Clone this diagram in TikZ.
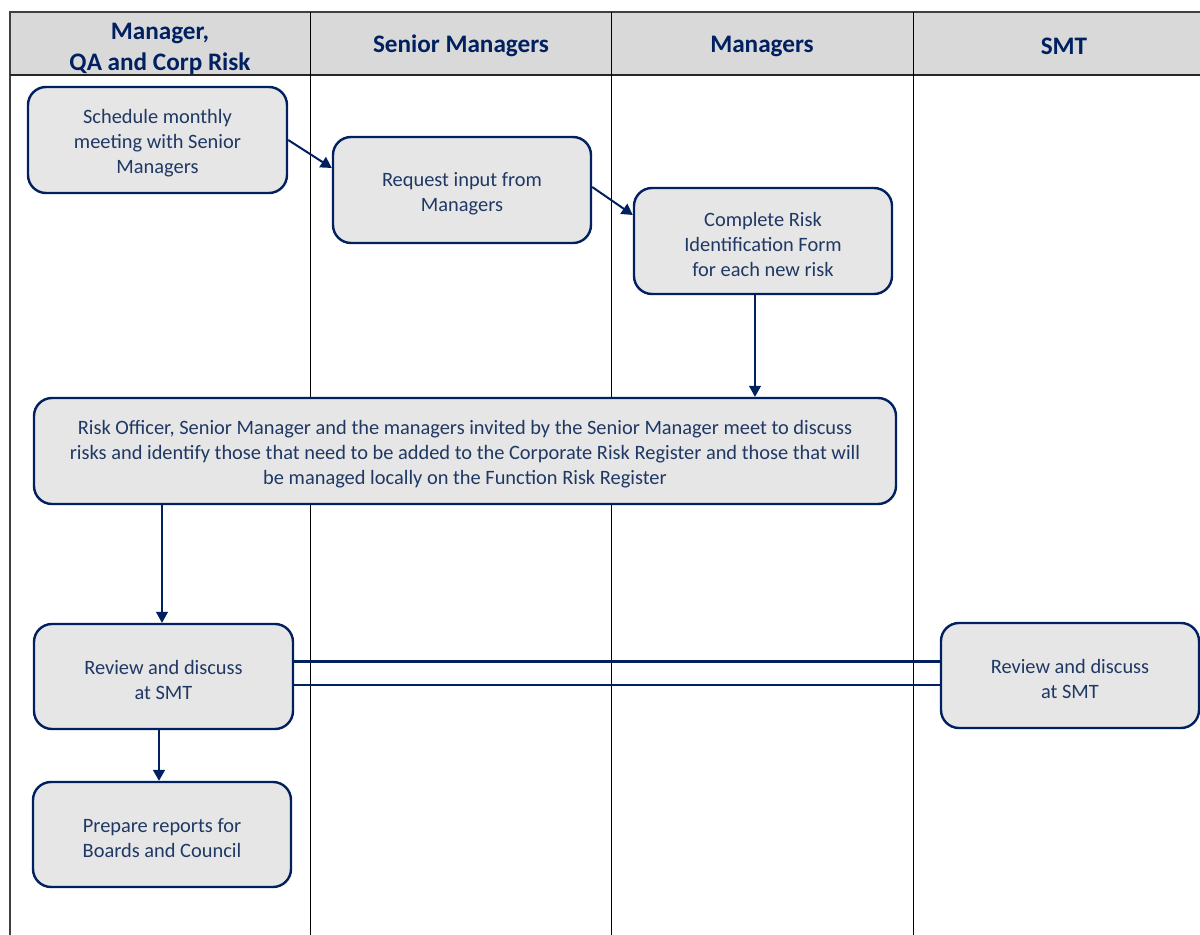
\documentclass[tikz,border=0pt]{standalone}
\usepackage{fontspec}
\setmainfont{Carlito}
\usetikzlibrary{arrows.meta}
\definecolor{navy}{HTML}{002060}
\definecolor{txt}{HTML}{1F3864}
\definecolor{boxfill}{HTML}{E6E6E6}
\definecolor{headfill}{HTML}{D9D9D9}
\newcommand{\tp}{\rule{0pt}{10.5pt}}
\tikzset{
  procbox/.style={draw=navy, line width=1.2pt, fill=boxfill, rounded corners=9pt,
    inner sep=0pt, align=center, text=txt,
    font=\fontsize{10.2pt}{12.5pt}\selectfont},
  headtext/.style={text=navy, align=center, font=\fontsize{12.6pt}{15.5pt}\selectfont\bfseries},
  lane/.style={draw=black, line width=0.5pt},
  flow/.style={draw=navy, line width=1pt, -{Triangle[width=6pt,length=5.5pt]}},
  thinflow/.style={draw=navy, line width=0.6pt, -{Triangle[width=6pt,length=5.5pt]}},
  link/.style={draw=navy, line width=1.1pt}
}
\begin{document}
\begin{tikzpicture}[x=0.5pt,y=-0.5pt]
\useasboundingbox (0,0) rectangle (1200,935);
% header
\fill[headfill] (10,12) rectangle (1215,75);
\draw[black!75, line width=1pt] (1215,12) -- (10,12) -- (10,935);
\draw[black!85, line width=0.8pt] (10,75) -- (1215,75);
\draw[lane] (310,12) -- (310,935);
\draw[lane] (611,12) -- (611,935);
\draw[lane] (913,12) -- (913,935);
\node[headtext] (h1) at (160,48.5) {Manager,\\QA and Corp Risk};
\node[headtext] (h2) at (461,46) {Senior Managers};
\node[headtext] (h3) at (762,46) {Managers};
\node[headtext] (h4) at (1064,46) {SMT};
% boxes
\node[procbox, minimum width=129.5pt, minimum height=53pt] (b1) at (157.5,140) {\tp Schedule monthly\\meeting with Senior\\Managers};
\node[procbox, minimum width=129pt, minimum height=53pt] (b2) at (462,190) {\tp Request input from\\Managers};
\node[procbox, minimum width=129pt, minimum height=53pt] (b3) at (763,241) {\tp Complete Risk\\Identification Form\\for each new risk};
\node[procbox, minimum width=431pt, minimum height=53pt] (b4) at (465,451) {\tp Risk Officer, Senior Manager and the managers invited by the Senior Manager meet to discuss\\risks and identify those that need to be added to the Corporate Risk Register and those that will\\be managed locally on the Function Risk Register};
\node[procbox, minimum width=129.5pt, minimum height=52.5pt] (b5) at (163.5,676.5) {\tp Review and discuss\\at SMT};
\node[procbox, minimum width=129pt, minimum height=52.5pt] (b6) at (162,834.5) {\tp Prepare reports for\\Boards and Council};
\node[procbox, minimum width=129pt, minimum height=52.5pt] (b7) at (1070,675.5) {\tp Review and discuss\\at SMT};
% connectors
\draw[flow] (b1.east |- {(0,140)}) -- (b2.west |- {(0,168)});
\draw[flow] (b2.east |- {(0,187)}) -- (b3.west |- {(0,215)});
\draw[thinflow] (b3.south -| {(755,0)}) -- (b4.north -| {(755,0)});
\draw[thinflow] (b4.south -| {(162,0)}) -- (b5.north -| {(162,0)});
\draw[flow] (b5.south -| {(159,0)}) -- (b6.north -| {(159,0)});
\draw[link] (b5.east |- {(0,661.5)}) -- (b7.west |- {(0,661.5)});
\draw[link] (b5.east |- {(0,685)}) -- (b7.west |- {(0,685)});
\end{tikzpicture}
\end{document}
